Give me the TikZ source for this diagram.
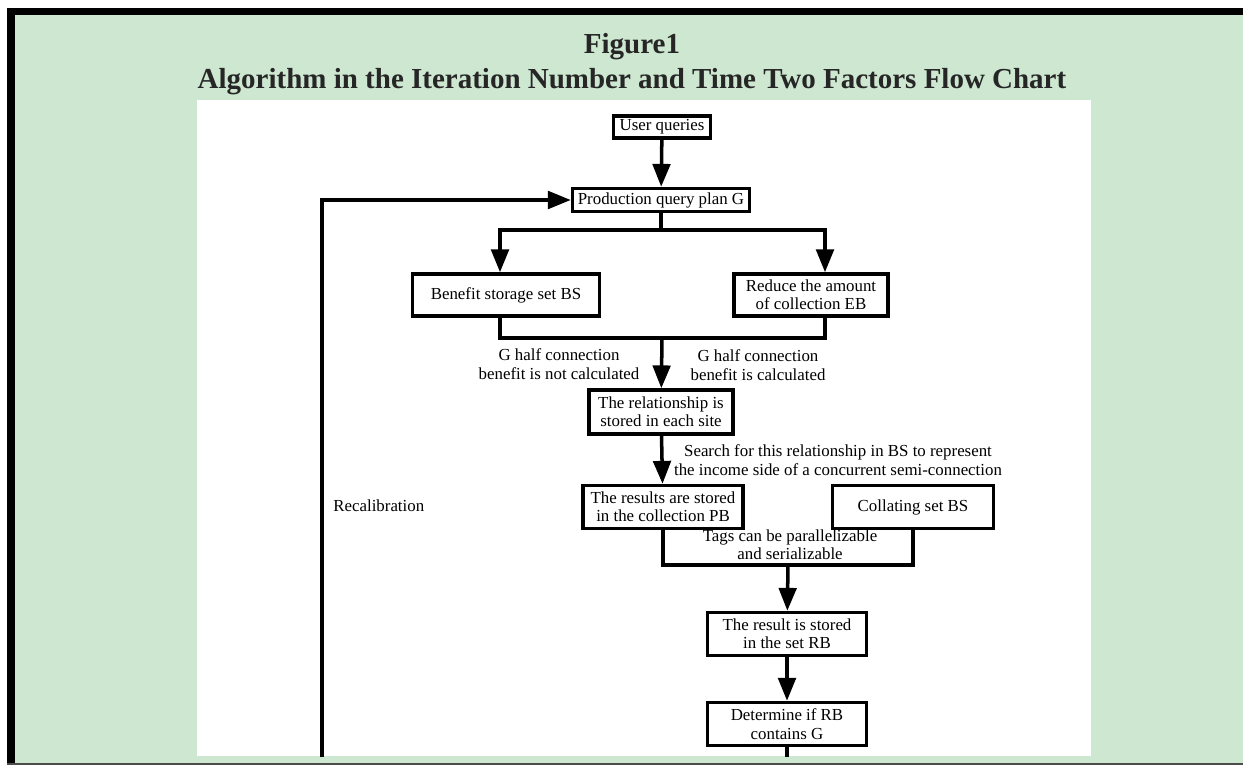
\documentclass[tikz,border=0pt]{standalone}
\usepackage{fontspec}
\setmainfont{Liberation Serif}
\usetikzlibrary{arrows.meta,calc}

\definecolor{panelgreen}{RGB}{205,231,208}

\tikzset{
  title/.style={inner sep=0pt, text=black!85, font=\fontsize{16.5}{19}\selectfont\bfseries},
  box/.style={draw, line width=2pt, fill=white, inner sep=1pt, align=center, font=\fontsize{9.6}{10.5}\selectfont},
  lbl/.style={inner sep=0pt, align=center, font=\fontsize{9.6}{10.5}\selectfont},
  flow/.style={line width=2pt},
  arr/.style={flow, -{Triangle[length=13pt,width=10pt]}}
}

\begin{document}
\begin{tikzpicture}[x=0.02cm, y=-0.02cm]
	%%%%% START %%%%%
	\useasboundingbox (0,0) rectangle (1243,766);
	
	\fill[panelgreen] (15,15) rectangle (1243,763);
	\fill[black] (7,8) rectangle (1243,15);
	\fill[black] (7,8) rectangle (15,763);
	\draw[black!70, line width=0.6pt] (7,764) -- (1243,764);
	\fill[white] (197,100) rectangle (1091,756);
	
	\node[title] (fig) at (632,47) {Figure1};
	\node[title] (head) at (632,82) {Algorithm in the Iteration Number and Time Two Factors Flow Chart};
	
	\begin{scope}
		\clip (197,100) rectangle (1091,756);
		
		\node[box, minimum width=1.94cm, minimum height=0.44cm] (uq) at (662,127) {User queries};
		\node[box, minimum width=3.54cm, minimum height=0.46cm] (plan) at (661,200) {Production query plan G};
		\node[box, minimum width=3.74cm, minimum height=0.84cm] (bs) at (506,295) {Benefit storage set BS};
		\node[box, minimum width=3.08cm, minimum height=0.84cm] (eb) at (811,295) {Reduce the amount\\of collection EB};
		\node[box, minimum width=2.88cm, minimum height=0.88cm] (rel) at (661,412) {The relationship is\\stored in each site};
		\node[box, minimum width=3.2cm, minimum height=0.86cm] (pb) at (663,507) {The results are stored\\in the collection PB};
		\node[box, minimum width=3.22cm, minimum height=0.86cm] (cs) at (913,507) {Collating set BS};
		\node[box, minimum width=3.18cm, minimum height=0.86cm] (rb) at (787,634) {The result is stored\\in the set RB};
		\node[box, minimum width=3.18cm, minimum height=0.86cm] (det) at (787,724) {Determine if RB\\contains G};
		
		\node[lbl] (nocalc) at (559,364) {G half connection\\benefit is not calculated};
		\node[lbl] (calc) at (758,365) {G half connection\\benefit is calculated};
		\node[lbl] (search) at (838,460) {Search for this relationship in BS to represent\\the income side of a concurrent semi-connection};
		\node[lbl] (tags) at (790,545) {Tags can be parallelizable\\and serializable};
		\node[lbl, anchor=west] (recal) at (333,506) {Recalibration};
		
		\coordinate (split) at (661,230);
		\coordinate (join) at (662,338);
		\coordinate (tagjoin) at (788,565);
		\coordinate (fb) at (322,780);
		\coordinate (down) at (787,780);
		\coordinate (bstop) at ([xshift=-0.12cm]bs.north);
		\coordinate (bsbot) at ([xshift=-0.12cm]bs.south);
		\coordinate (ebtop) at ([xshift=0.28cm]eb.north);
		\coordinate (ebbot) at ([xshift=0.28cm]eb.south);
		
		\draw[arr] (uq) -- (plan);
		\draw[flow] (plan) -- (split);
		\draw[arr] (split) -| (bstop);
		\draw[arr] (split) -| (ebtop);
		\draw[flow] (bsbot) |- (join) -| (ebbot);
		\draw[arr] (join) -- (rel);
		\draw[arr] (rel) -- (pb);
		\draw[flow] (pb.south) |- (tagjoin) -| (cs.south);
		\draw[arr] (tagjoin) -- (rb);
		\draw[arr] (rb) -- (det);
		\draw[flow] (det) -- (down);
		\draw[arr] (fb) |- (plan.west);
	\end{scope}
	
	%%%%% END %%%%%
\end{tikzpicture}
\end{document}
